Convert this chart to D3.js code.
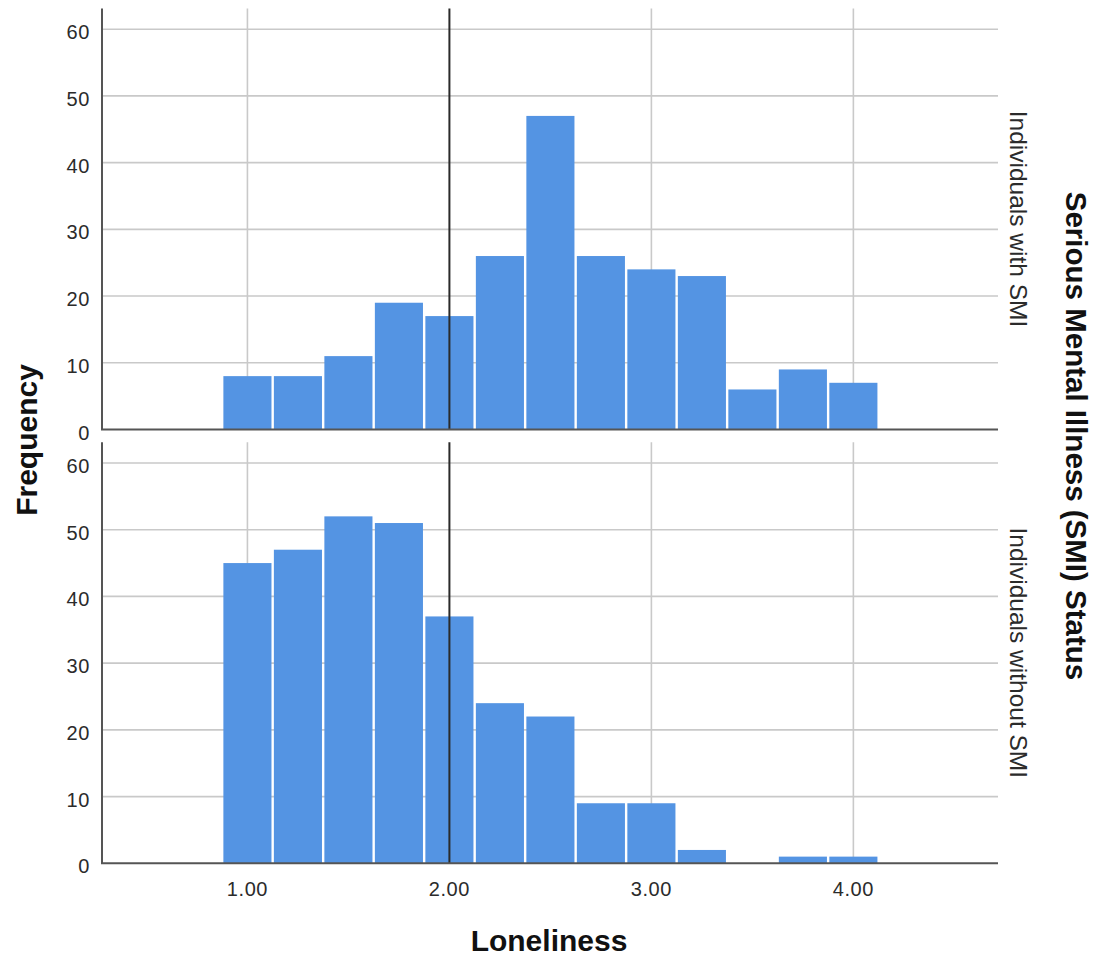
<!DOCTYPE html>
<html>
<head>
<meta charset="utf-8">
<script src="https://cdn.jsdelivr.net/npm/d3@7"></script>
<style>
  html, body { margin: 0; padding: 0; background: #fff; }
  svg { display: block; }
  text { font-family: "Liberation Sans", Arial, sans-serif; }
</style>
</head>
<body>
<svg id="chart" width="1094" height="957"></svg>
<script>
// ---- data ----
const binCenters = [1.00, 1.25, 1.50, 1.75, 2.00, 2.25, 2.50, 2.75, 3.00, 3.25, 3.50, 3.75, 4.00];
const binWidth = 0.25;
const smiCounts = [8, 8, 11, 19, 17, 26, 47, 26, 24, 23, 6, 9, 7];
const noSmiCounts = [45, 47, 52, 51, 37, 24, 22, 9, 9, 2, 0, 1, 1];
const panelLabels = ["Individuals with SMI", "Individuals without SMI"];
const xTicks = [1, 2, 3, 4];
const yTicks = [0, 10, 20, 30, 40, 50, 60];
const referenceValue = 2.0;
const xTitle = "Loneliness";
const yTitle = "Frequency";
const facetTitle = "Serious Mental Illness (SMI) Status";

// ---- layout ----
const svg = d3.select("#chart");
const left = 102, right = 998;
const panels = [
  { counts: smiCounts, label: panelLabels[0], top: 8.5, bottom: 429.5 },
  { counts: noSmiCounts, label: panelLabels[1], top: 442.3, bottom: 863.3 }
];
const x = d3.scaleLinear().domain([0.28, 4.716]).range([left, right]);
const barColor = "#5494e3";
const gridColor = "#c9c9c9";
const axisColor = "#555";

panels.forEach((p, pi) => {
  const y = d3.scaleLinear().domain([0, 63.1]).range([p.bottom, p.top]);
  const g = svg.append("g");

  // horizontal gridlines
  g.selectAll("line.hgrid").data(yTicks.filter(d => d > 0)).join("line")
    .attr("x1", left).attr("x2", right)
    .attr("y1", d => y(d)).attr("y2", d => y(d))
    .attr("stroke", gridColor).attr("stroke-width", 1.6);

  // vertical gridlines
  g.selectAll("line.vgrid").data(xTicks.filter(d => d !== referenceValue)).join("line")
    .attr("x1", d => x(d)).attr("x2", d => x(d))
    .attr("y1", p.top).attr("y2", p.bottom)
    .attr("stroke", gridColor).attr("stroke-width", 1.6);

  // bars
  const bins = binCenters.map((c, i) => ({ c, v: p.counts[i] })).filter(d => d.v > 0);
  g.selectAll("rect.bar").data(bins).join("rect")
    .attr("x", d => x(d.c - binWidth / 2) + 1.2)
    .attr("width", d => x(d.c + binWidth / 2) - x(d.c - binWidth / 2) - 2.4)
    .attr("y", d => y(d.v))
    .attr("height", d => y(0) - y(d.v))
    .attr("fill", barColor);

  // reference line
  g.append("line")
    .attr("x1", x(referenceValue)).attr("x2", x(referenceValue))
    .attr("y1", p.top).attr("y2", p.bottom)
    .attr("stroke", "#2a2a2a").attr("stroke-width", 2);

  // axes lines
  g.append("line").attr("x1", left).attr("x2", left)
    .attr("y1", p.top).attr("y2", p.bottom)
    .attr("stroke", axisColor).attr("stroke-width", 2);
  g.append("line").attr("x1", left - 1).attr("x2", right)
    .attr("y1", p.bottom).attr("y2", p.bottom)
    .attr("stroke", axisColor).attr("stroke-width", 2);

  // y tick labels
  g.selectAll("text.ytick").data(yTicks).join("text")
    .attr("x", 90).attr("y", d => y(d) + 10)
    .attr("text-anchor", "end")
    .attr("font-size", 20).attr("letter-spacing", 0.6).attr("fill", "#2b2b2b")
    .text(d => d);

  // panel label
  const cy = (p.top + p.bottom) / 2;
  g.append("text")
    .attr("transform", `translate(1010,${cy}) rotate(90)`)
    .attr("text-anchor", "middle")
    .attr("font-size", 24.5).attr("fill", "#2b2b2b")
    .text(p.label);
});

// x tick labels
svg.selectAll("text.xtick").data(xTicks).join("text")
  .attr("x", d => x(d)).attr("y", 896)
  .attr("text-anchor", "middle")
  .attr("font-size", 20).attr("letter-spacing", 0.6).attr("fill", "#2b2b2b")
  .text(d => d3.format(".2f")(d));

// titles
svg.append("text")
  .attr("x", 549).attr("y", 951)
  .attr("text-anchor", "middle")
  .attr("font-size", 30).attr("font-weight", "bold").attr("fill", "#111")
  .text(xTitle);

svg.append("text")
  .attr("transform", "translate(37,440) rotate(-90)")
  .attr("text-anchor", "middle")
  .attr("font-size", 30).attr("font-weight", "bold").attr("fill", "#111")
  .text(yTitle);

svg.append("text")
  .attr("transform", "translate(1066,436) rotate(90)")
  .attr("text-anchor", "middle")
  .attr("font-size", 29.5).attr("font-weight", "bold").attr("fill", "#111")
  .text(facetTitle);
</script>
</body>
</html>
